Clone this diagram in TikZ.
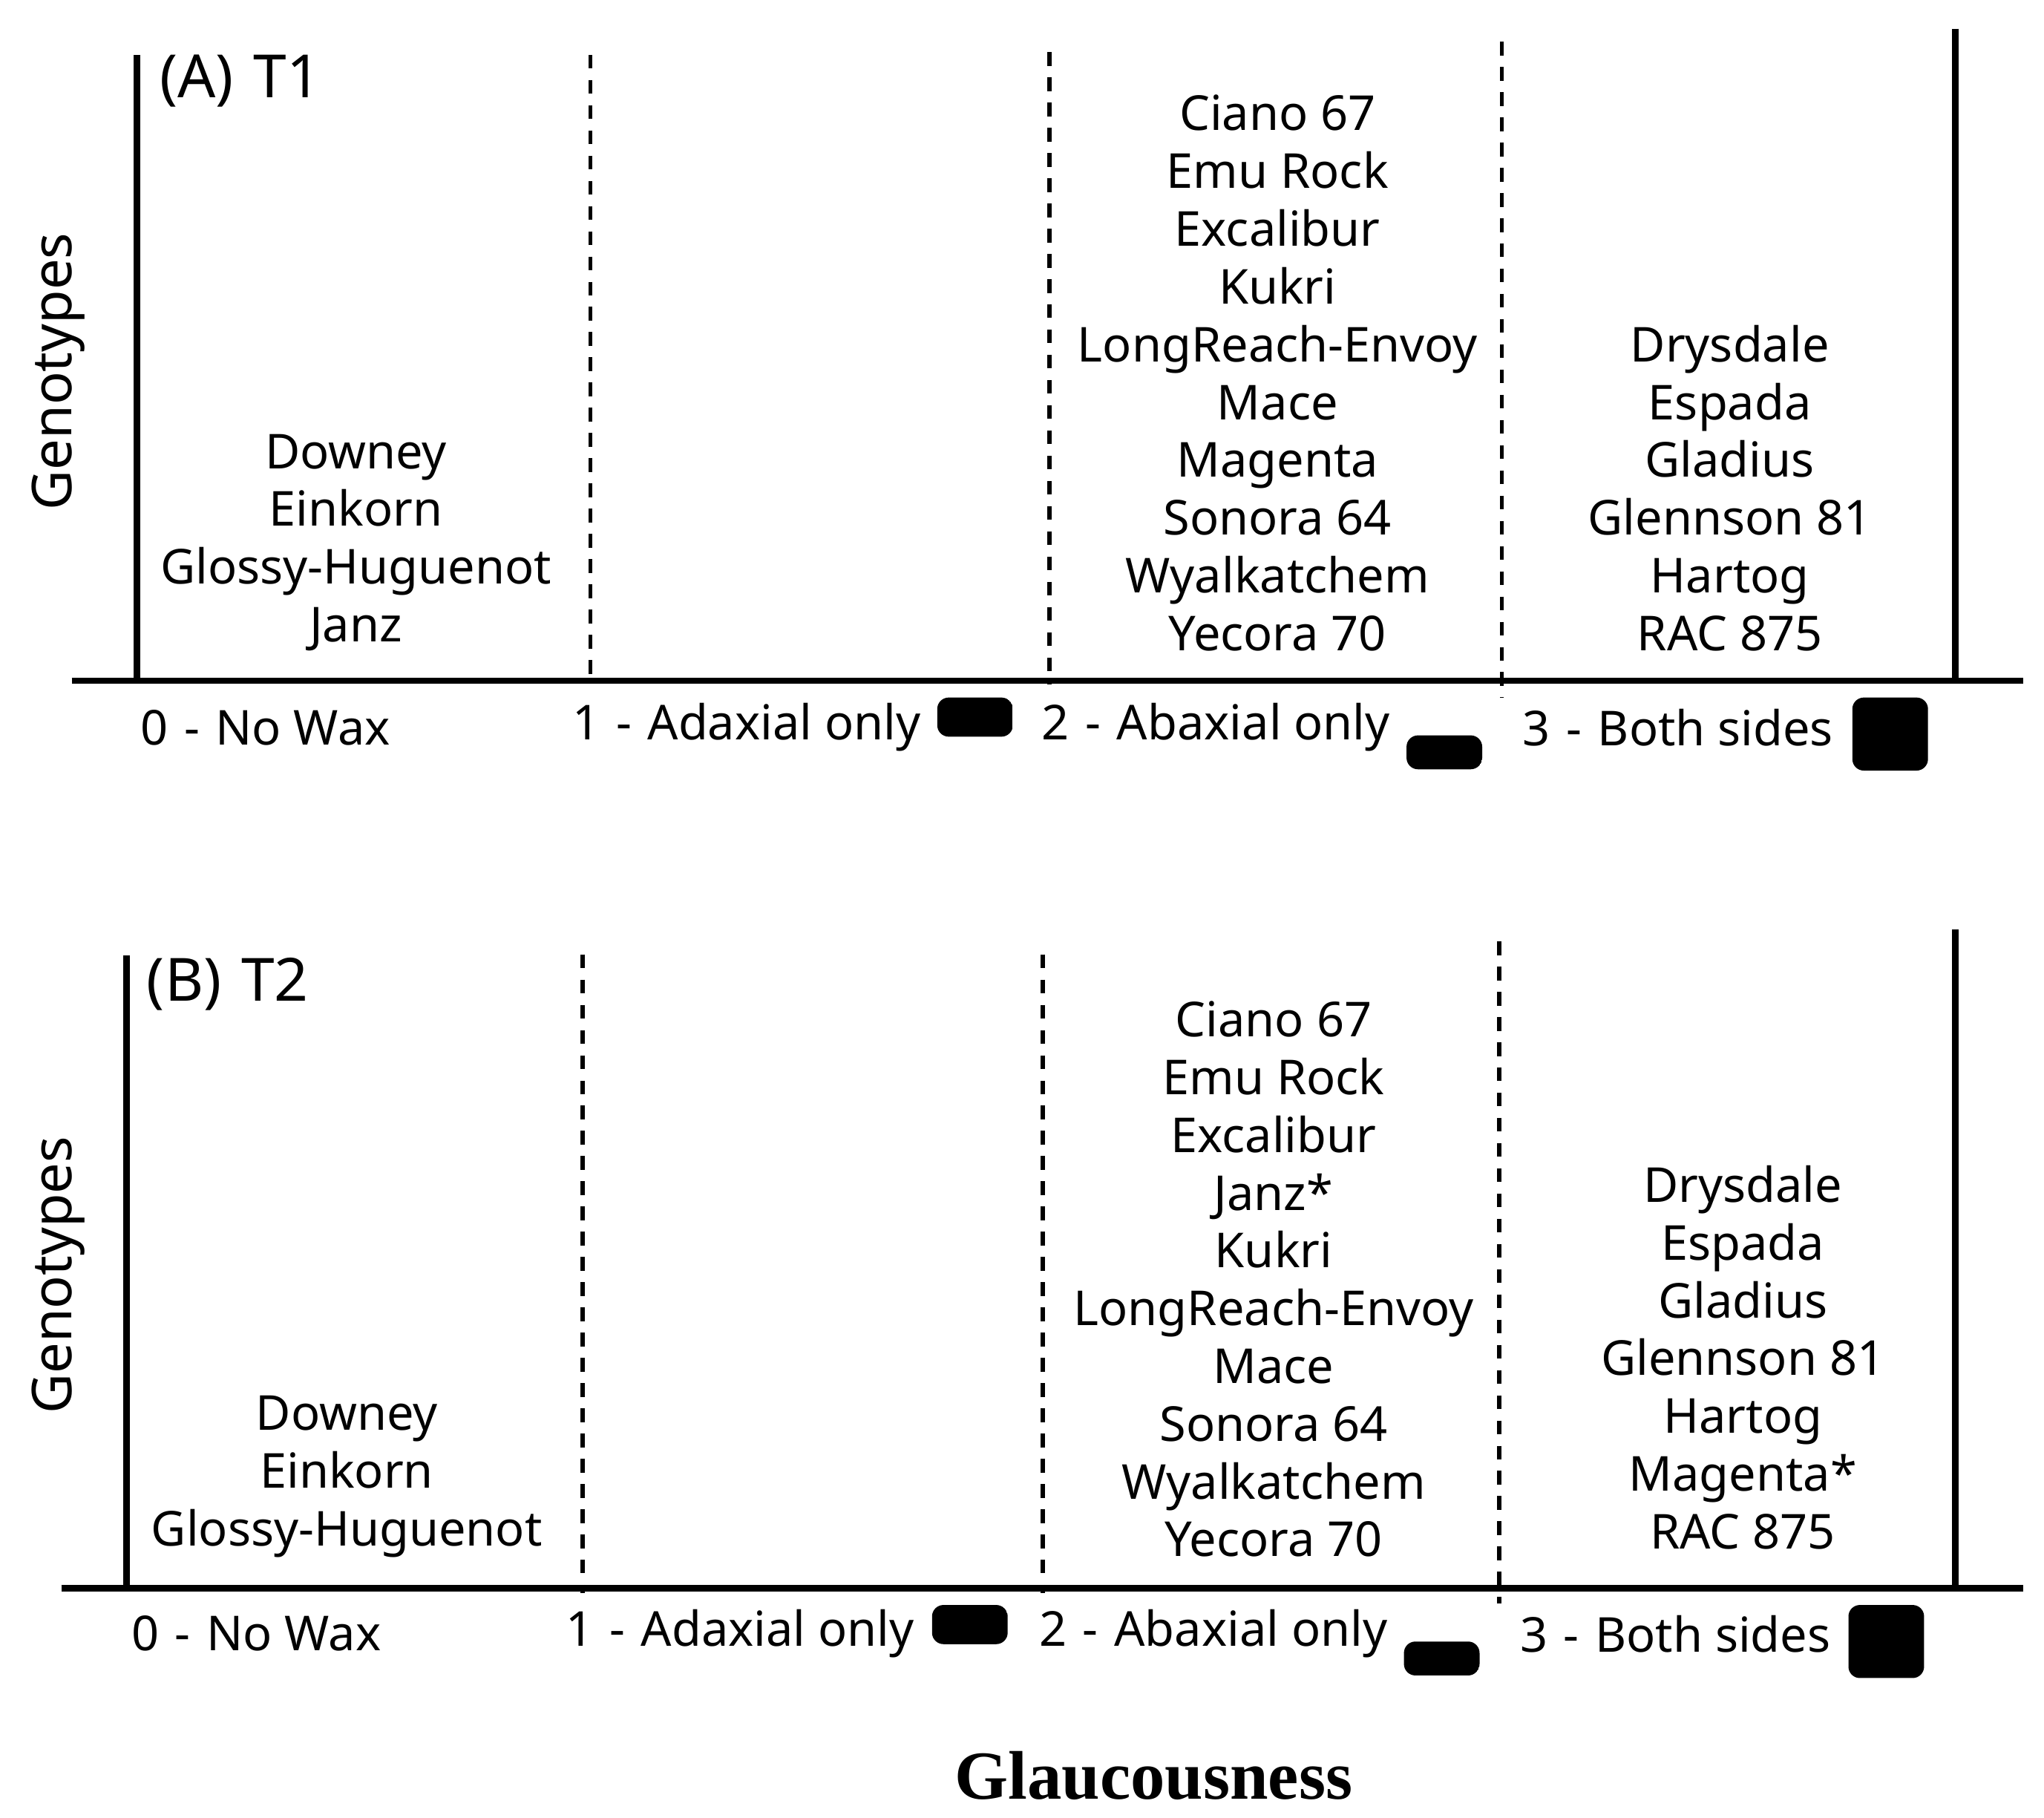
\documentclass[tikz,border=0pt]{standalone}
\usepackage{fontspec}
\setmainfont{Noto Sans}
\newfontfamily\serifbf{Liberation Serif}
\begin{document}
\begin{tikzpicture}[x=0.01cm,y=-0.01cm,
  ax/.style={line width=1.4pt},
  dsh/.style={line width=0.9pt,dash pattern=on 3pt off 2.5pt},
  lbl/.style={font=\fontsize{10.5}{12.6}\selectfont,inner sep=0pt},
  gen/.style={font=\fontsize{10.5}{12.6}\selectfont,align=center,inner sep=0pt,anchor=south},
  bx/.style={line width=1.5pt,rounded corners=2.5pt,minimum width=0.58cm,minimum height=0.56cm,inner sep=0pt}]
\useasboundingbox (0,0) rectangle (1568,1394);
% Panel A
\draw[ax] (105,42) -- (105,522);
\draw[ax] (55,522) -- (1552,522);
\draw[ax] (1500,22) -- (1500,522);
\draw[dsh] (453,42) -- (453,525);
\draw[dsh] (805,40) -- (805,525);
\draw[dsh] (1152,32) -- (1152,535);
\node[anchor=west,font=\bfseries\fontsize{13}{15}\selectfont,inner sep=0pt] (ta) at (122,62) {(A)\,\,T1};
\node[rotate=90,font=\bfseries\fontsize{12}{14}\selectfont,inner sep=0pt] (ga) at (45,285) {Genotypes};
\node[gen] (a1) at (273,500) {Downey\\Einkorn\\Glossy-Huguenot\\Janz};
\node[gen] (a3) at (980,500) {Ciano 67\\Emu Rock\\Excalibur\\Kukri\\LongReach-Envoy\\Mace\\Magenta\\Sonora 64\\Wyalkatchem\\Yecora 70};
\node[gen] (a4) at (1327,500) {Drysdale\\Espada\\Gladius\\Glennson 81\\Hartog\\RAC 875};
\node[lbl,anchor=east] (la0) at (300,558) {0\,\,-\,\,No Wax};
\node[bx] (ba0) at (343,563) {};
\node[lbl,anchor=east] (la1) at (707,558) {1\,\,-\,\,Adaxial only};
\node[bx,path picture={\fill (path picture bounding box.north west) rectangle ([yshift=-0.02cm]path picture bounding box.east);}] (ba1) at (748,563) {};
\node[lbl,anchor=east] (la2) at (1067,558) {2\,\,-\,\,Abaxial only};
\node[bx,path picture={\fill (path picture bounding box.south west) rectangle ([yshift=-0.02cm]path picture bounding box.east);}] (ba2) at (1108,562) {};
\node[lbl,anchor=east] (la3) at (1407,558) {3\,\,-\,\,Both sides};
\node[bx,fill=black] (ba3) at (1450,563) {};
% Panel B
\draw[ax] (97,733) -- (97,1218);
\draw[ax] (47,1218) -- (1552,1218);
\draw[ax] (1500,713) -- (1500,1218);
\draw[dsh] (447,732) -- (447,1222);
\draw[dsh] (800,732) -- (800,1222);
\draw[dsh] (1150,722) -- (1150,1230);
\node[anchor=west,font=\bfseries\fontsize{13}{15}\selectfont,inner sep=0pt] (tb) at (112,755) {(B)\,\,T2};
\node[rotate=90,font=\bfseries\fontsize{12}{14}\selectfont,inner sep=0pt] (gb) at (45,978) {Genotypes};
\node[gen] (b1) at (266,1195) {Downey\\Einkorn\\Glossy-Huguenot};
\node[gen] (b3) at (977,1195) {Ciano 67\\Emu Rock\\Excalibur\\Janz*\\Kukri\\LongReach-Envoy\\Mace\\Sonora 64\\Wyalkatchem\\Yecora 70};
\node[gen] (b4) at (1337,1189) {Drysdale\\Espada\\Gladius\\Glennson 81\\Hartog\\Magenta*\\RAC 875};
\node[lbl,anchor=east] (lb0) at (293,1253) {0\,\,-\,\,No Wax};
\node[bx] (bb0) at (336,1259) {};
\node[lbl,anchor=east] (lb1) at (702,1253) {1\,\,-\,\,Adaxial only};
\node[bx,path picture={\fill (path picture bounding box.north west) rectangle ([yshift=-0.02cm]path picture bounding box.east);}] (bb1) at (744,1259) {};
\node[lbl,anchor=east] (lb2) at (1065,1253) {2\,\,-\,\,Abaxial only};
\node[bx,path picture={\fill (path picture bounding box.south west) rectangle ([yshift=-0.02cm]path picture bounding box.east);}] (bb2) at (1106,1257) {};
\node[lbl,anchor=east] (lb3) at (1405,1253) {3\,\,-\,\,Both sides};
\node[bx,fill=black] (bb3) at (1447,1259) {};
\node[font=\serifbf\bfseries\fontsize{15}{18}\selectfont,inner sep=0pt] (gl) at (885,1362) {Glaucousness};
\end{tikzpicture}
\end{document}
